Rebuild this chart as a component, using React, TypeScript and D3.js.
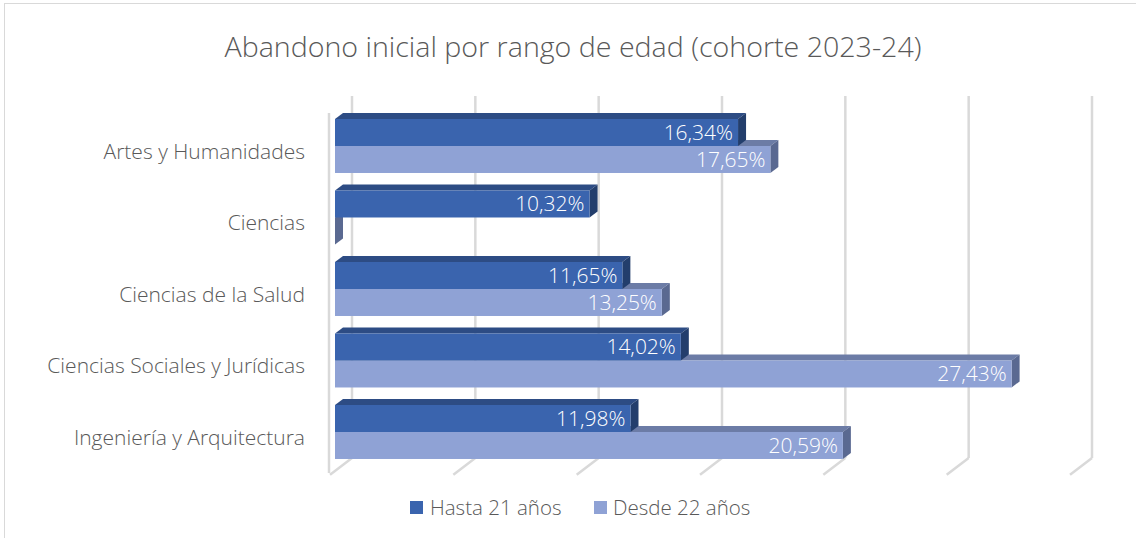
import React from "react";
import * as d3 from "d3";

const categories = [
  "Artes y Humanidades",
  "Ciencias",
  "Ciencias de la Salud",
  "Ciencias Sociales y Jurídicas",
  "Ingeniería y Arquitectura",
];
const seriesNames = ["Hasta 21 años", "Desde 22 años"];
const hasta21 = [16.34, 10.32, 11.65, 14.02, 11.98];
const desde22 = [17.65, 0, 13.25, 27.43, 20.59];
const axisTicks = [0, 5, 10, 15, 20, 25, 30];
const title = "Abandono inicial por rango de edad (cohorte 2023-24)";

const W = 1136;
const H = 538;
const FONT = "'Open Sans', 'Noto Sans', sans-serif";
const TXT = "#595959";

const colors = [
  { front: "#3A64AE", top: "#2D4C84", side: "#233E6C" },
  { front: "#8FA2D5", top: "#6C7CA6", side: "#5A6991" },
];

const K = 0.76; // vertical ratio of depth projection
const BAR_D = 8; // bar depth in px
const WALL_D = 17; // back wall depth
const FLOOR_FRONT_D = -5;

const x = d3.scaleLinear().domain([0, 30]).range([335, 1075]);
const y = d3
  .scaleBand<string>()
  .domain(categories)
  .range([110.24, 467.74])
  .paddingInner(0.245)
  .paddingOuter(0.1225);
const ySub = d3.scaleBand<string>().domain(seriesNames).range([0, y.bandwidth()]);

const P = (px: number, py: number, d: number): [number, number] => [px + d, py - K * d];
const poly = (pts: [number, number][]) => pts.map((p) => p.join(",")).join(" ");

function Bar({ v, top, h, c }: { v: number; top: number; h: number; c: typeof colors[0] }) {
  const x0 = x(0);
  const x1 = x(v);
  const bot = top + h;
  return (
    <g>
      {v > 0 && <polygon points={poly([P(x0, top, 0), P(x1, top, 0), P(x1, top, BAR_D), P(x0, top, BAR_D)])} fill={c.top} />}
      <polygon points={poly([P(x1, top, 0), P(x1, bot, 0), P(x1, bot, BAR_D), P(x1, top, BAR_D)])} fill={c.side} />
      {v > 0 && <rect x={x0} y={top} width={x1 - x0} height={h} fill={c.front} />}
    </g>
  );
}

export default function App() {
  const data = [hasta21, desde22];
  const floorY = 471; // front-plane y of floor at depth 0
  return (
    <svg
      width={W}
      height={H}
      style={{ position: "absolute", left: 0, top: 0, background: "#fff" }}
      fontFamily={FONT}
    >
      <rect x={4.5} y={3.5} width={W + 10} height={H + 10} fill="#fff" stroke="#d9d9d9" strokeWidth={1} />
      <text
        x={573}
        y={57}
        textAnchor="middle"
        fontSize={27}
        fontWeight={300}
        fill={TXT}
        textLength={697}
        lengthAdjust="spacingAndGlyphs"
      >
        {title}
      </text>

      {/* left wall front edge */}
      <line x1={329} x2={329} y1={113} y2={473} stroke="#d9d9d9" strokeWidth={2.5} />

      {/* back wall gridlines and floor lines */}
      {axisTicks.map((t) => {
        const top = P(x(t), 109, WALL_D);
        const bot = P(x(t), floorY, WALL_D);
        const fr = P(x(t), floorY, FLOOR_FRONT_D);
        return (
          <g key={t}>
            <line x1={top[0]} y1={top[1]} x2={bot[0]} y2={bot[1]} stroke="#d9d9d9" strokeWidth={2.5} />
            <line x1={fr[0]} y1={fr[1]} x2={bot[0]} y2={bot[1]} stroke="#d9d9d9" strokeWidth={2.5} />
          </g>
        );
      })}

      {/* bars: lower series first so upper series covers its top face */}
      {categories.map((cat, i) => {
        const b = y(cat)!;
        return (
          <g key={cat}>
            {[1, 0].map((s) => (
              <Bar key={s} v={data[s][i]} top={b + ySub(seriesNames[s])!} h={ySub.bandwidth()} c={colors[s]} />
            ))}
            {[0, 1].map((s) =>
              data[s][i] > 0 ? (
                <text
                  key={"l" + s}
                  x={x(data[s][i]) - 5}
                  y={b + ySub(seriesNames[s])! + ySub.bandwidth() / 2 + 7.5}
                  textAnchor="end"
                  fontSize={21}
                  fontWeight={300}
                  fill="#fff"
                >
                  {d3.format(".2f")(data[s][i]).replace(".", ",") + "%"}
                </text>
              ) : null
            )}
            <text
              x={305}
              y={b + y.bandwidth() / 2 + 13}
              textAnchor="end"
              fontSize={21}
              fontWeight={300}
              fill={TXT}
            >
              {cat}
            </text>
          </g>
        );
      })}

      {/* legend */}
      {[
        { x: 410, tx: 430 },
        { x: 594, tx: 613 },
      ].map((l, s) => (
        <g key={s}>
          <rect x={l.x} y={501} width={13} height={13} fill={colors[s].front} />
          <text x={l.tx} y={515} fontSize={20.5} fontWeight={300} fill={TXT}>
            {seriesNames[s]}
          </text>
        </g>
      ))}
    </svg>
  );
}
